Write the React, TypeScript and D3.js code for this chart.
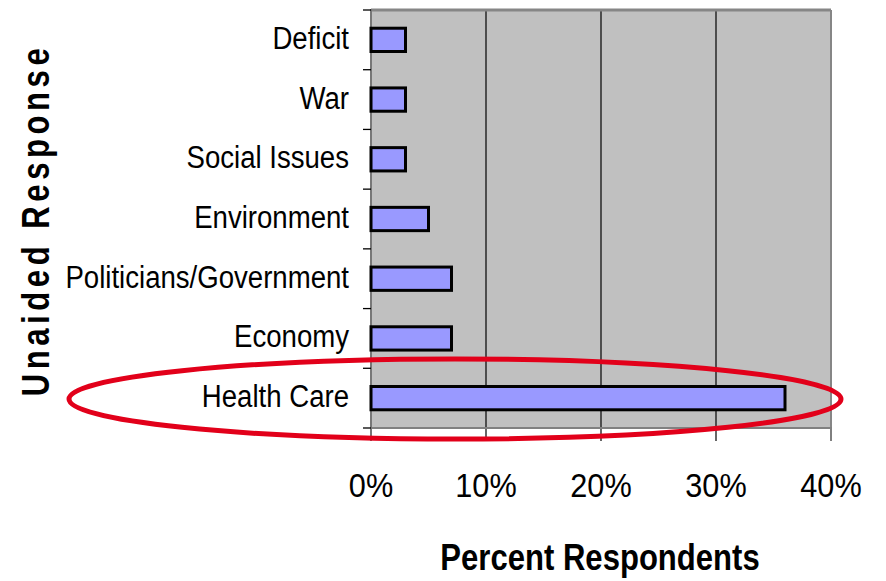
import * as d3 from "d3";

const categories = [
  "Deficit",
  "War",
  "Social Issues",
  "Environment",
  "Politicians/Government",
  "Economy",
  "Health Care",
];
const percents = [3, 3, 3, 5, 7, 7, 36];
const xTicks = [0, 10, 20, 30, 40];

const FONT = "'Liberation Sans', Arial, sans-serif";

export default function App() {
  const width = 886;
  const height = 581;
  const left = 371;
  const right = 831;
  const top = 10;
  const bottom = 428;

  const x = d3.scaleLinear().domain([0, 40]).range([left, right]);
  const y = d3
    .scaleBand<string>()
    .domain(categories)
    .range([top, bottom])
    .paddingInner(0.61)
    .paddingOuter(0.305);
  const step = y.step();
  const boundaries = d3.range(categories.length + 1).map((i) => top + i * step);

  return (
    <svg
      width={width}
      height={height}
      style={{ position: "absolute", left: 0, top: 0 }}
    >
      <rect x={0} y={0} width={width} height={height} fill="white" />
      {/* plot background */}
      <rect x={left} y={top} width={right - left} height={bottom - top} fill="#c0c0c0" />

      {/* vertical gridlines with ticks below */}
      {xTicks.slice(1, -1).map((t) => (
        <line key={t} x1={x(t)} x2={x(t)} y1={top} y2={441} stroke="#000" strokeWidth={1.2} />
      ))}
      <line x1={right} x2={right} y1={top} y2={441} stroke="#000" strokeWidth={1} />
      {/* plot border */}
      <line x1={left} x2={right} y1={top} y2={top} stroke="#868686" strokeWidth={3} />
      <line x1={right} x2={right} y1={top} y2={bottom} stroke="#868686" strokeWidth={2} />
      <line x1={left} x2={right + 1} y1={bottom} y2={bottom} stroke="#808080" strokeWidth={2} />
      <line x1={left} x2={left} y1={top - 1} y2={441} stroke="#777" strokeWidth={2} />

      {/* category ticks */}
      {boundaries.map((b, i) => (
        <line key={i} x1={363} x2={left} y1={b} y2={b} stroke="#000" strokeWidth={1.3} />
      ))}

      {/* bars */}
      {categories.map((c, i) => (
        <rect
          key={c}
          x={x(0)}
          y={y(c)!}
          width={x(percents[i]) - x(0)}
          height={y.bandwidth()}
          fill="#9999ff"
          stroke="#000"
          strokeWidth={3}
        />
      ))}

      {/* category labels */}
      {categories.map((c) => (
        <text
          key={c}
          transform={`translate(349,${y(c)! + y.bandwidth() / 2 + 9}) scale(0.89,1)`}
          textAnchor="end"
          fontFamily={FONT}
          fontSize={31}
          fill="#000"
        >
          {c}
        </text>
      ))}

      {/* x tick labels */}
      {xTicks.map((t) => (
        <text
          key={t}
          transform={`translate(${x(t)},497) scale(0.93,1)`}
          textAnchor="middle"
          fontFamily={FONT}
          fontSize={33}
          fill="#000"
        >
          {t}%
        </text>
      ))}

      {/* axis titles */}
      <text
        transform={`translate(600,570) scale(0.84,1)`}
        textAnchor="middle"
        fontFamily={FONT}
        fontWeight="bold"
        fontSize={37}
        fill="#000"
      >
        Percent Respondents
      </text>
      <text
        transform={`translate(49,220) rotate(-90) scale(0.82,1)`}
        textAnchor="middle"
        fontFamily={FONT}
        fontWeight="bold"
        fontSize={38}
        letterSpacing={5.5}
        fill="#000"
      >
        Unaided Response
      </text>

      {/* highlight ellipse */}
      <ellipse
        cx={455}
        cy={399}
        rx={386}
        ry={40}
        fill="none"
        stroke="#e2001a"
        strokeWidth={5}
      />
    </svg>
  );
}
